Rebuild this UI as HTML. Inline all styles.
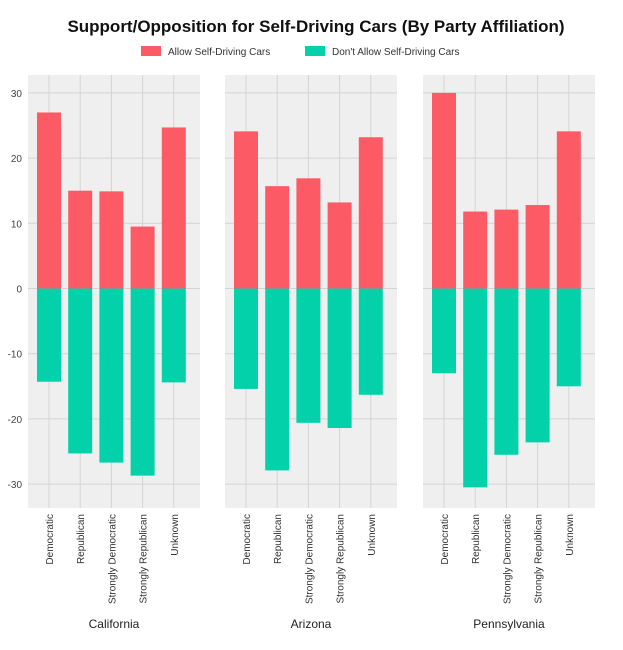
<!DOCTYPE html>
<html><head><meta charset="utf-8"><style>
body{margin:0;background:#fff;font-family:"Liberation Sans",sans-serif}
svg{display:block}
</style></head><body>
<svg id="c" width="623" height="650" xmlns="http://www.w3.org/2000/svg">
<text x="316" y="32" text-anchor="middle" font-size="17" font-weight="bold" fill="#111">Support/Opposition for Self-Driving Cars (By Party Affiliation)</text>
<g>
<rect x="141" y="46" width="20" height="10" fill="#fc5b65"/>
<text x="168" y="55" font-size="10" fill="#333">Allow Self-Driving Cars</text>
<rect x="305" y="46" width="20" height="10" fill="#03d1a9"/>
<text x="332" y="55" font-size="10" fill="#333">Don't Allow Self-Driving Cars</text>
</g>
<g id="plots"></g>
</svg>
<script>
const states = ["California","Arizona","Pennsylvania"];
const categories = ["Democratic","Republican","Strongly Democratic","Strongly Republican","Unknown"];
const allowCA = [27, 15, 14.9, 9.5, 24.7];
const dontCA = [-14.3, -25.3, -26.7, -28.7, -14.4];
const allowAZ = [24.1, 15.7, 16.9, 13.2, 23.2];
const dontAZ = [-15.4, -27.9, -20.6, -21.4, -16.3];
const allowPA = [30, 11.8, 12.1, 12.8, 24.1];
const dontPA = [-13, -30.5, -25.5, -23.6, -15];
const yTicks = [30, 20, 10, 0, -10, -20, -30];
const allowSeries = [allowCA, allowAZ, allowPA];
const dontSeries = [dontCA, dontAZ, dontPA];

const NS = "http://www.w3.org/2000/svg";
const plotsG = document.getElementById('plots');
const panelX = [28, 225, 423], panelW = 172, plotTop = 75, plotBottom = 508;
function y(v){ return 288.5 - v * 6.52; }
function mk(tag, attrs){ const e = document.createElementNS(NS, tag); for (const k in attrs) e.setAttribute(k, attrs[k]); plotsG.appendChild(e); return e; }
function xc(p, i){ return panelX[p] + 21 + i * 31.2; }

states.forEach((s, p) => {
  const bg = mk('rect', {x: panelX[p], y: plotTop, width: panelW, height: plotBottom - plotTop, fill: '#efefef'});
  
  
  yTicks.forEach(t => {
    const l = mk('line', {x1: panelX[p], x2: panelX[p] + panelW, y1: y(t), y2: y(t), stroke: '#d4d4d4', 'stroke-width': 1});
    
    
    if (p === 0) {
      const tl = mk('text', {x: 22, y: y(t) + 4, 'text-anchor': 'end', 'font-size': 10, fill: '#444'});
      tl.textContent = t;
      
      
    }
  });
  categories.forEach((c, i) => {
    const x = xc(p, i);
    const l = mk('line', {x1: x, x2: x, y1: plotTop, y2: plotBottom, stroke: '#d4d4d4', 'stroke-width': 1});
    
    
  });
  categories.forEach((c, i) => {
    const x = xc(p, i), a = allowSeries[p][i], d = dontSeries[p][i];
    const r1 = mk('rect', {x: x - 12, y: y(a), width: 24, height: y(0) - y(a), fill: '#fc5b65'});
    
    
    const r2 = mk('rect', {x: x - 12, y: y(0), width: 24, height: y(d) - y(0), fill: '#03d1a9'});
    
    
    const t = mk('text', {x: 0, y: 0, 'text-anchor': 'end', 'font-size': 10, fill: '#333', transform: 'translate(' + (x + 4) + ',' + (plotBottom + 6) + ') rotate(-90)'});
    t.textContent = c;
    
    
  });
  const st = mk('text', {x: panelX[p] + panelW / 2, y: 628, 'text-anchor': 'middle', 'font-size': 12, fill: '#222'});
  st.textContent = s;
  
  
});
</script>
</body></html>
